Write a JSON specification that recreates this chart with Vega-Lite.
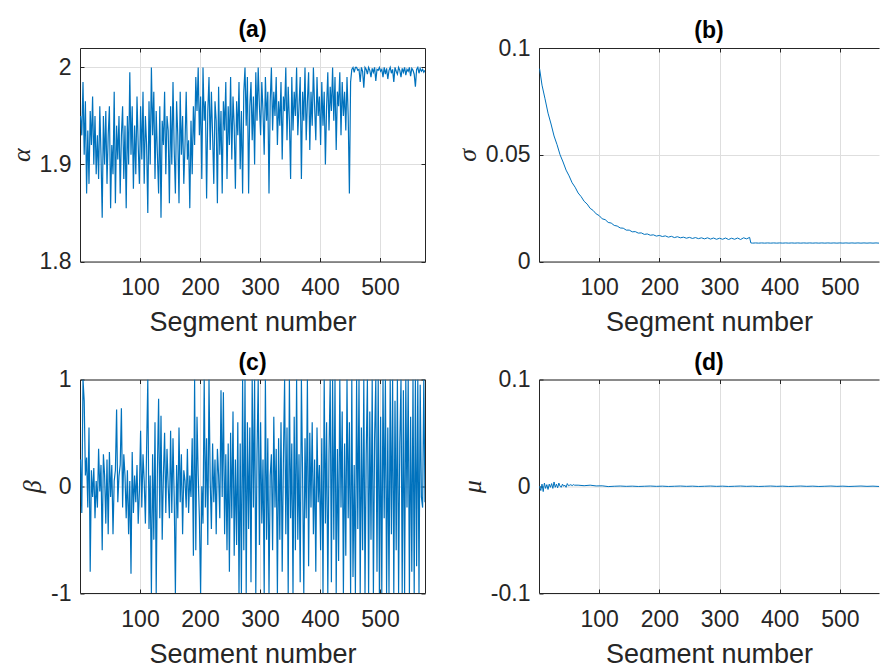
{
"$schema": "https://vega.github.io/schema/vega-lite/v6.json",
"background": "white",
"padding": {"left": 8, "top": 18, "right": 0, "bottom": 0},
"datasets": {
"ab": [
{"s":1,"a":1.95,"b":0.25},{"s":3,"a":1.93,"b":-0.25},{"s":5,"a":1.985,"b":1},{"s":7,"a":1.91,"b":0.8},{"s":9,"a":1.965,"b":0.1},{"s":11,"a":1.87,"b":0.27},{"s":13,"a":1.935,"b":-0.2},{"s":15,"a":1.88,"b":0.55},{"s":17,"a":1.955,"b":-0.8},{"s":19,"a":1.92,"b":0.15},
{"s":21,"a":1.97,"b":-0.1},{"s":23,"a":1.9,"b":0.17},{"s":25,"a":1.95,"b":-0.3},{"s":27,"a":1.89,"b":0.05},{"s":29,"a":1.93,"b":-0.2},{"s":31,"a":1.885,"b":0.35},{"s":33,"a":1.96,"b":-0.05},{"s":35,"a":1.91,"b":0.2},{"s":37,"a":1.845,"b":-0.6},{"s":39,"a":1.95,"b":0.3},
{"s":41,"a":1.9,"b":0.1},{"s":43,"a":1.955,"b":-0.35},{"s":45,"a":1.88,"b":0.25},{"s":47,"a":1.93,"b":-0.45},{"s":49,"a":1.96,"b":0.32},{"s":51,"a":1.855,"b":-0.1},{"s":53,"a":1.92,"b":0.2},{"s":55,"a":1.89,"b":-0.45},{"s":57,"a":1.975,"b":0.05},{"s":59,"a":1.86,"b":0.15},
{"s":61,"a":1.94,"b":0.72},{"s":63,"a":1.905,"b":-0.15},{"s":65,"a":1.95,"b":0.1},{"s":67,"a":1.87,"b":0.2},{"s":69,"a":1.93,"b":0.73},{"s":71,"a":1.96,"b":-0.2},{"s":73,"a":1.885,"b":0.3},{"s":75,"a":1.94,"b":0.1},{"s":77,"a":1.855,"b":-0.3},{"s":79,"a":1.95,"b":0.15},
{"s":81,"a":1.9,"b":-0.45},{"s":83,"a":1.995,"b":0.05},{"s":85,"a":1.91,"b":-0.82},{"s":87,"a":1.96,"b":0.32},{"s":89,"a":1.875,"b":-0.25},{"s":91,"a":1.94,"b":0.1},{"s":93,"a":1.89,"b":-0.15},{"s":95,"a":1.97,"b":0.2},{"s":97,"a":1.92,"b":-0.35},{"s":99,"a":1.88,"b":-0.05},
{"s":101,"a":1.96,"b":0.52},{"s":103,"a":1.905,"b":-0.2},{"s":105,"a":1.975,"b":0.3},{"s":107,"a":1.88,"b":0.05},{"s":109,"a":1.95,"b":-0.35},{"s":111,"a":1.92,"b":0.35},{"s":113,"a":1.85,"b":1},{"s":115,"a":1.965,"b":-0.4},{"s":117,"a":1.9,"b":0.1},{"s":119,"a":2,"b":-1},
{"s":121,"a":1.93,"b":0.3},{"s":123,"a":1.975,"b":-0.5},{"s":125,"a":1.885,"b":0.6},{"s":127,"a":1.955,"b":-1},{"s":129,"a":1.91,"b":0.15},{"s":131,"a":1.87,"b":0.82},{"s":133,"a":1.96,"b":-0.3},{"s":135,"a":1.845,"b":0.66},{"s":137,"a":1.945,"b":-0.5},{"s":139,"a":1.92,"b":0.1},
{"s":141,"a":1.975,"b":0.5},{"s":143,"a":1.89,"b":-0.25},{"s":145,"a":1.95,"b":0.35},{"s":147,"a":1.935,"b":0},{"s":149,"a":1.86,"b":-0.3},{"s":151,"a":1.96,"b":0.52},{"s":153,"a":1.9,"b":-0.25},{"s":155,"a":1.985,"b":0.45},{"s":157,"a":1.915,"b":-0.1},{"s":159,"a":1.87,"b":-1},
{"s":161,"a":1.965,"b":0.2},{"s":163,"a":1.93,"b":-0.3},{"s":165,"a":1.86,"b":0.55},{"s":167,"a":1.975,"b":-0.15},{"s":169,"a":1.91,"b":0.3},{"s":171,"a":1.95,"b":-0.45},{"s":173,"a":1.88,"b":0.15},{"s":175,"a":1.92,"b":0.05},{"s":177,"a":1.975,"b":-0.2},{"s":179,"a":1.905,"b":0.35},
{"s":181,"a":1.925,"b":-0.25},{"s":183,"a":1.855,"b":0.1},{"s":185,"a":1.945,"b":-0.1},{"s":187,"a":1.89,"b":0.45},{"s":189,"a":1.96,"b":-0.65},{"s":191,"a":1.92,"b":1},{"s":193,"a":1.99,"b":-0.6},{"s":195,"a":1.955,"b":0.65},{"s":197,"a":2,"b":0.1},{"s":199,"a":1.93,"b":-0.3},
{"s":201,"a":1.97,"b":-1},{"s":203,"a":1.885,"b":0},{"s":205,"a":2,"b":-0.35},{"s":207,"a":1.945,"b":1},{"s":209,"a":1.965,"b":-0.2},{"s":211,"a":1.865,"b":0.45},{"s":213,"a":1.955,"b":-0.55},{"s":215,"a":1.99,"b":1},{"s":217,"a":1.915,"b":0.05},{"s":219,"a":1.975,"b":-0.4},
{"s":221,"a":1.93,"b":0.4},{"s":223,"a":1.88,"b":-0.15},{"s":225,"a":1.965,"b":0.25},{"s":227,"a":1.945,"b":-0.45},{"s":229,"a":1.86,"b":0.35},{"s":231,"a":1.98,"b":0.1},{"s":233,"a":1.91,"b":-0.3},{"s":235,"a":1.955,"b":0.9},{"s":237,"a":1.87,"b":-0.1},{"s":239,"a":1.965,"b":0.88},
{"s":241,"a":1.935,"b":-0.45},{"s":243,"a":1.985,"b":0.3},{"s":245,"a":1.885,"b":-0.6},{"s":247,"a":1.96,"b":0.4},{"s":249,"a":1.92,"b":-0.8},{"s":251,"a":1.99,"b":0.5},{"s":253,"a":1.905,"b":-0.3},{"s":255,"a":1.97,"b":0.7},{"s":257,"a":1.94,"b":-0.65},{"s":259,"a":1.875,"b":0.25},
{"s":261,"a":1.965,"b":-0.55},{"s":263,"a":1.93,"b":0.6},{"s":265,"a":1.985,"b":-1},{"s":267,"a":1.895,"b":0.4},{"s":269,"a":1.955,"b":-1},{"s":271,"a":1.87,"b":1},{"s":273,"a":1.975,"b":-0.6},{"s":275,"a":2,"b":1},{"s":277,"a":1.94,"b":-1},{"s":279,"a":1.99,"b":0.6},
{"s":281,"a":1.87,"b":-0.4},{"s":283,"a":1.96,"b":0.55},{"s":285,"a":1.985,"b":-0.9},{"s":287,"a":1.925,"b":1},{"s":289,"a":1.97,"b":-0.2},{"s":291,"a":1.9,"b":1},{"s":293,"a":1.995,"b":-1},{"s":295,"a":1.945,"b":0.3},{"s":297,"a":2,"b":1},{"s":299,"a":1.96,"b":-0.55},
{"s":301,"a":1.93,"b":0.6},{"s":303,"a":1.985,"b":-0.35},{"s":305,"a":1.955,"b":0.25},{"s":307,"a":1.91,"b":-1},{"s":309,"a":1.99,"b":1},{"s":311,"a":1.945,"b":-0.5},{"s":313,"a":1.975,"b":0.45},{"s":315,"a":1.87,"b":-1},{"s":317,"a":1.965,"b":0.1},{"s":319,"a":2,"b":0.3},
{"s":321,"a":1.935,"b":-0.6},{"s":323,"a":1.975,"b":0.65},{"s":325,"a":1.95,"b":-0.2},{"s":327,"a":1.99,"b":0.35},{"s":329,"a":1.92,"b":-1},{"s":331,"a":1.965,"b":0.45},{"s":333,"a":1.94,"b":-0.5},{"s":335,"a":1.985,"b":0.6},{"s":337,"a":1.905,"b":-0.8},{"s":339,"a":1.97,"b":0.25},
{"s":341,"a":1.955,"b":1},{"s":343,"a":2,"b":-0.45},{"s":345,"a":1.925,"b":0.55},{"s":347,"a":1.98,"b":-1},{"s":349,"a":1.945,"b":1},{"s":351,"a":1.885,"b":-0.3},{"s":353,"a":1.99,"b":0.4},{"s":355,"a":1.935,"b":-1},{"s":357,"a":1.975,"b":0.65},{"s":359,"a":1.95,"b":-0.6},
{"s":361,"a":2,"b":1},{"s":363,"a":1.93,"b":-0.5},{"s":365,"a":1.96,"b":0.3},{"s":367,"a":1.99,"b":-0.9},{"s":369,"a":1.885,"b":1},{"s":371,"a":1.975,"b":0.1},{"s":373,"a":1.945,"b":-1},{"s":375,"a":2,"b":0.45},{"s":377,"a":1.925,"b":-0.3},{"s":379,"a":1.965,"b":1},
{"s":381,"a":1.995,"b":-0.75},{"s":383,"a":1.915,"b":0.5},{"s":385,"a":1.975,"b":-0.2},{"s":387,"a":1.94,"b":0.6},{"s":389,"a":2,"b":-0.45},{"s":391,"a":1.96,"b":0.25},{"s":393,"a":1.925,"b":-0.8},{"s":395,"a":1.99,"b":0.55},{"s":397,"a":1.95,"b":-0.15},{"s":399,"a":1.97,"b":0.2},
{"s":401,"a":1.92,"b":-0.6},{"s":403,"a":1.985,"b":0.45},{"s":405,"a":1.94,"b":-1},{"s":407,"a":1.975,"b":1},{"s":409,"a":1.9,"b":-0.35},{"s":411,"a":1.96,"b":0.6},{"s":413,"a":1.995,"b":-1},{"s":415,"a":1.935,"b":0.3},{"s":417,"a":1.98,"b":1},{"s":419,"a":1.955,"b":-0.9},
{"s":421,"a":2,"b":1},{"s":423,"a":1.945,"b":-0.5},{"s":425,"a":1.99,"b":1},{"s":427,"a":1.915,"b":-1},{"s":429,"a":1.975,"b":0.35},{"s":431,"a":1.96,"b":-0.7},{"s":433,"a":1.995,"b":1},{"s":435,"a":1.93,"b":-0.2},{"s":437,"a":1.985,"b":0.7},{"s":439,"a":1.95,"b":-1},
{"s":441,"a":1.975,"b":0.4},{"s":443,"a":1.935,"b":-0.65},{"s":445,"a":1.99,"b":1},{"s":447,"a":1.95,"b":-0.3},{"s":449,"a":1.87,"b":0.6},{"s":451,"a":1.985,"b":-1},{"s":453,"a":1.998,"b":1},{"s":455,"a":2,"b":-0.85},{"s":457,"a":1.995,"b":0.2},{"s":459,"a":2,"b":-1},
{"s":461,"a":2,"b":1},{"s":463,"a":1.997,"b":-0.4},{"s":465,"a":1.998,"b":1},{"s":467,"a":1.985,"b":-1},{"s":469,"a":2,"b":0.55},{"s":471,"a":1.996,"b":-0.6},{"s":473,"a":1.979,"b":1},{"s":475,"a":2,"b":-1},{"s":477,"a":1.998,"b":0.3},{"s":479,"a":1.993,"b":1},
{"s":481,"a":2,"b":-1},{"s":483,"a":1.997,"b":0.7},{"s":485,"a":1.99,"b":-0.5},{"s":487,"a":1.999,"b":1},{"s":489,"a":1.995,"b":-1},{"s":491,"a":2,"b":0.45},{"s":493,"a":1.986,"b":1},{"s":495,"a":1.998,"b":-0.8},{"s":497,"a":1.997,"b":1},{"s":499,"a":2,"b":-1},
{"s":501,"a":1.996,"b":0.65},{"s":503,"a":1.998,"b":-1},{"s":505,"a":1.99,"b":1},{"s":507,"a":2,"b":-0.3},{"s":509,"a":1.993,"b":1},{"s":511,"a":1.999,"b":-1},{"s":513,"a":1.988,"b":0.55},{"s":515,"a":1.997,"b":-1},{"s":517,"a":2,"b":1},{"s":519,"a":1.994,"b":-0.45},
{"s":521,"a":1.998,"b":1},{"s":523,"a":1.985,"b":-1},{"s":525,"a":2,"b":0.8},{"s":527,"a":1.996,"b":-0.6},{"s":529,"a":1.993,"b":1},{"s":531,"a":2,"b":-1},{"s":533,"a":1.997,"b":0.4},{"s":535,"a":1.99,"b":1},{"s":537,"a":1.999,"b":-1},{"s":539,"a":1.995,"b":0.9},
{"s":541,"a":2,"b":-1},{"s":543,"a":1.992,"b":1},{"s":545,"a":1.998,"b":-0.2},{"s":547,"a":1.996,"b":1},{"s":549,"a":2,"b":-1},{"s":551,"a":1.991,"b":0.65},{"s":553,"a":1.999,"b":-0.8},{"s":555,"a":1.997,"b":1},{"s":557,"a":1.993,"b":-1},{"s":559,"a":1.98,"b":1},
{"s":561,"a":1.998,"b":-0.75},{"s":563,"a":2,"b":1},{"s":565,"a":1.994,"b":-1},{"s":567,"a":1.999,"b":0.95},{"s":569,"a":1.996,"b":-0.1},{"s":571,"a":1.998,"b":-0.2},{"s":573,"a":1.995,"b":1},{"s":575,"a":1.997,"b":-0.15}
],
"sig": [
{"s":1,"g":0.0903},{"s":5,"g":0.0826},{"s":10,"g":0.0762},{"s":15,"g":0.0695},{"s":20,"g":0.0644},{"s":25,"g":0.0588},{"s":30,"g":0.0547},{"s":35,"g":0.05},{"s":40,"g":0.0466},{"s":45,"g":0.0428},
{"s":50,"g":0.0401},{"s":55,"g":0.0369},{"s":60,"g":0.0348},{"s":65,"g":0.0321},{"s":70,"g":0.0304},{"s":75,"g":0.0282},{"s":80,"g":0.0269},{"s":85,"g":0.0249},{"s":90,"g":0.0239},{"s":95,"g":0.0223},
{"s":100,"g":0.0215},{"s":105,"g":0.02},{"s":110,"g":0.0196},{"s":115,"g":0.0183},{"s":120,"g":0.018},{"s":125,"g":0.0169},{"s":130,"g":0.0166},{"s":135,"g":0.0157},{"s":140,"g":0.0156},{"s":145,"g":0.0147},
{"s":150,"g":0.0147},{"s":155,"g":0.0139},{"s":160,"g":0.014},{"s":165,"g":0.0133},{"s":170,"g":0.0134},{"s":175,"g":0.0127},{"s":180,"g":0.0129},{"s":185,"g":0.0123},{"s":190,"g":0.0125},{"s":195,"g":0.0119},
{"s":200,"g":0.0122},{"s":205,"g":0.0117},{"s":210,"g":0.012},{"s":215,"g":0.0114},{"s":220,"g":0.0118},{"s":225,"g":0.0112},{"s":230,"g":0.0116},{"s":235,"g":0.0111},{"s":240,"g":0.0114},{"s":245,"g":0.0109},
{"s":250,"g":0.0113},{"s":255,"g":0.0108},{"s":260,"g":0.0112},{"s":265,"g":0.0107},{"s":270,"g":0.0111},{"s":275,"g":0.0106},{"s":280,"g":0.0111},{"s":285,"g":0.0105},{"s":290,"g":0.011},{"s":295,"g":0.0104},
{"s":300,"g":0.0109},{"s":305,"g":0.0104},{"s":310,"g":0.011},{"s":315,"g":0.0103},{"s":320,"g":0.0109},{"s":325,"g":0.0104},{"s":330,"g":0.011},{"s":335,"g":0.0103},{"s":340,"g":0.0111},{"s":345,"g":0.0106},
{"s":350,"g":0.0113},{"s":352,"g":0.0087},{"s":355,"g":0.0086},{"s":360,"g":0.0087},{"s":365,"g":0.0086},{"s":370,"g":0.0087},{"s":375,"g":0.0086},{"s":380,"g":0.0087},{"s":385,"g":0.0086},{"s":390,"g":0.0087},
{"s":395,"g":0.0086},{"s":400,"g":0.0087},{"s":405,"g":0.0086},{"s":410,"g":0.0087},{"s":415,"g":0.0086},{"s":420,"g":0.0087},{"s":425,"g":0.0086},{"s":430,"g":0.0087},{"s":435,"g":0.0086},{"s":440,"g":0.0087},
{"s":445,"g":0.0086},{"s":450,"g":0.0087},{"s":455,"g":0.0086},{"s":460,"g":0.0087},{"s":465,"g":0.0086},{"s":470,"g":0.0087},{"s":475,"g":0.0086},{"s":480,"g":0.0087},{"s":485,"g":0.0086},{"s":490,"g":0.0087},
{"s":495,"g":0.0086},{"s":500,"g":0.0087},{"s":505,"g":0.0086},{"s":510,"g":0.0087},{"s":515,"g":0.0086},{"s":520,"g":0.0087},{"s":525,"g":0.0086},{"s":530,"g":0.0087},{"s":535,"g":0.0086},{"s":540,"g":0.0087},
{"s":545,"g":0.0086},{"s":550,"g":0.0087},{"s":555,"g":0.0086},{"s":560,"g":0.0087},{"s":565,"g":0.0086},{"s":570,"g":0.0087},{"s":575,"g":0.0086}
],
"mu": [
{"s":1,"m":0},{"s":3,"m":-0.004},{"s":5,"m":0.002},{"s":7,"m":-0.005},{"s":9,"m":0.003},{"s":11,"m":-0.002},{"s":13,"m":0.0015},{"s":15,"m":-0.003},{"s":17,"m":0.002},{"s":19,"m":-0.001},
{"s":21,"m":0.0025},{"s":23,"m":-0.002},{"s":25,"m":0.004},{"s":27,"m":-0.001},{"s":29,"m":0.002},{"s":31,"m":-0.0015},{"s":33,"m":0.003},{"s":35,"m":0},{"s":37,"m":-0.001},{"s":39,"m":0.002},
{"s":41,"m":0},{"s":43,"m":0.001},{"s":45,"m":-0.001},{"s":47,"m":0.0025},{"s":49,"m":0.0005},{"s":51,"m":0.001},{"s":53,"m":0.0015},{"s":55,"m":0.0005},{"s":57,"m":0.0015},{"s":59,"m":0.001},
{"s":65,"m":0.001},{"s":75,"m":0.0005},{"s":85,"m":0.001},{"s":95,"m":0.0003},{"s":105,"m":0.0004},{"s":115,"m":-0.0003},{"s":125,"m":0},
{"s":135,"m":0.0002},{"s":145,"m":-0.0001},{"s":155,"m":0.0001},{"s":165,"m":-0.0002},{"s":175,"m":0},{"s":185,"m":0.0002},{"s":195,"m":-0.0001},{"s":205,"m":0.0001},{"s":215,"m":-0.0002},{"s":225,"m":0},
{"s":235,"m":0.0002},{"s":245,"m":-0.0001},{"s":255,"m":0.0001},{"s":265,"m":-0.0002},{"s":275,"m":0},{"s":285,"m":0.0002},{"s":295,"m":-0.0001},{"s":305,"m":0.0001},{"s":315,"m":-0.0002},{"s":325,"m":0},
{"s":335,"m":0.0002},{"s":345,"m":-0.0001},{"s":355,"m":0.0001},{"s":365,"m":-0.0002},{"s":375,"m":0},{"s":385,"m":0.0002},{"s":395,"m":-0.0001},{"s":405,"m":0.0001},{"s":415,"m":-0.0002},{"s":425,"m":0},
{"s":435,"m":0.0002},{"s":445,"m":-0.0001},{"s":455,"m":0.0001},{"s":465,"m":-0.0002},{"s":475,"m":0},{"s":485,"m":0.0002},{"s":495,"m":-0.0001},{"s":505,"m":0.0001},{"s":515,"m":-0.0002},{"s":525,"m":0},
{"s":535,"m":0.0002},{"s":545,"m":-0.0001},{"s":555,"m":0.0001},{"s":565,"m":-0.0002},{"s":575,"m":0}
]
},
"config": {
"view": {"stroke": null},
"font": "Liberation Sans",
"axis": {"domainColor": "#262626", "domainWidth": 1, "tickColor": "#262626", "tickWidth": 1, "tickSize": -4, "labelColor": "#262626", "labelFont": "Liberation Sans", "labelFontSize": 23, "titleColor": "#262626", "titleFont": "Liberation Sans", "titleFontSize": 27, "titleFontWeight": "normal", "gridColor": "#dedede", "gridWidth": 1, "labelOverlap": false},
"title": {"font": "Liberation Sans", "fontSize": 23, "fontWeight": "bold", "color": "#000000", "offset": 6, "anchor": "middle", "frame": "group"},
"line": {"color": "#0072BD", "strokeWidth": 1}
},
"columns": 2,
"spacing": {"row": 117.5, "column": 114},
"bounds": "flush",
"concat": [
{"width": 345, "height": 213.5, "title": {"text": "(a)", "offset": 6}, "data": {"name": "ab"},
 "layer": [
  {"mark": {"type": "line", "clip": true, "strokeWidth": 1.2},
   "encoding": {
    "x": {"field": "s", "type": "quantitative", "scale": {"domain": [0, 575], "nice": false, "zero": false},
          "axis": {"orient": "bottom", "values": [100,200,300,400,500], "grid": true, "labelExpr": "'' + datum.value", "title": "Segment number", "labelPadding": 19, "titlePadding": 10}},
    "y": {"field": "a", "type": "quantitative", "scale": {"domain": [1.8, 2.02], "nice": false, "zero": false},
          "axis": {"orient": "left", "values": [1.8,1.9,2], "grid": true, "labelExpr": "'' + datum.value", "title": "α", "titleFont": "Liberation Serif", "titleFontStyle": "italic", "titleFontSize": 26, "labelPadding": 13, "titlePadding": 5}}}},
  {"mark": {"type": "line", "strokeOpacity": 0},
   "encoding": {
    "x": {"field": "s", "type": "quantitative", "axis": {"orient": "top", "values": [100,200,300,400,500], "labels": false, "grid": false, "title": null}},
    "y": {"field": "a", "type": "quantitative", "axis": {"orient": "right", "values": [1.8,1.9,2], "labels": false, "grid": false, "title": null}}}}
 ]},
{"width": 340, "height": 213.5, "title": {"text": "(b)", "offset": -6}, "data": {"name": "sig"},
 "layer": [
  {"mark": {"type": "line", "clip": true},
   "encoding": {
    "x": {"field": "s", "type": "quantitative", "scale": {"domain": [0, 565], "nice": false, "zero": false},
          "axis": {"orient": "bottom", "values": [100,200,300,400,500], "grid": true, "labelExpr": "'' + datum.value", "title": "Segment number", "labelPadding": 19, "titlePadding": 10}},
    "y": {"field": "g", "type": "quantitative", "scale": {"domain": [0, 0.1], "nice": false, "zero": false},
          "axis": {"orient": "left", "values": [0,0.05,0.1], "grid": true, "labelExpr": "'' + datum.value", "title": "σ", "titleFont": "Liberation Serif", "titleFontStyle": "italic", "titleFontSize": 26, "labelPadding": 13, "titlePadding": 5}}}},
  {"mark": {"type": "line", "strokeOpacity": 0},
   "encoding": {
    "x": {"field": "s", "type": "quantitative", "axis": {"orient": "top", "values": [100,200,300,400,500], "labels": false, "grid": false, "title": null}},
    "y": {"field": "g", "type": "quantitative", "axis": {"orient": "right", "labels": false, "ticks": false, "domain": false, "grid": false, "title": null}}}}
 ]},
{"width": 345, "height": 213.5, "title": {"text": "(c)", "offset": -6}, "data": {"name": "ab"},
 "layer": [
  {"mark": {"type": "line", "clip": true, "strokeWidth": 1.2},
   "encoding": {
    "x": {"field": "s", "type": "quantitative", "scale": {"domain": [0, 575], "nice": false, "zero": false},
          "axis": {"orient": "bottom", "values": [100,200,300,400,500], "grid": true, "labelExpr": "'' + datum.value", "title": "Segment number", "labelPadding": 19, "titlePadding": 10}},
    "y": {"field": "b", "type": "quantitative", "scale": {"domain": [-1, 1], "nice": false, "zero": false},
          "axis": {"orient": "left", "values": [-1,0,1], "grid": true, "labelExpr": "'' + datum.value", "title": "β", "titleFont": "Liberation Serif", "titleFontStyle": "italic", "titleFontSize": 26, "labelPadding": 13, "titlePadding": 5}}}},
  {"mark": {"type": "line", "strokeOpacity": 0},
   "encoding": {
    "x": {"field": "s", "type": "quantitative", "axis": {"orient": "top", "values": [100,200,300,400,500], "labels": false, "grid": false, "title": null}},
    "y": {"field": "b", "type": "quantitative", "axis": {"orient": "right", "values": [-1,0,1], "labels": false, "grid": false, "title": null}}}}
 ]},
{"width": 340, "height": 213.5, "title": {"text": "(d)", "offset": -6}, "data": {"name": "mu"},
 "layer": [
  {"mark": {"type": "line", "clip": true},
   "encoding": {
    "x": {"field": "s", "type": "quantitative", "scale": {"domain": [0, 565], "nice": false, "zero": false},
          "axis": {"orient": "bottom", "values": [100,200,300,400,500], "grid": true, "labelExpr": "'' + datum.value", "title": "Segment number", "labelPadding": 19, "titlePadding": 10}},
    "y": {"field": "m", "type": "quantitative", "scale": {"domain": [-0.1, 0.1], "nice": false, "zero": false},
          "axis": {"orient": "left", "values": [-0.1,0,0.1], "grid": true, "labelExpr": "'' + datum.value", "title": "μ", "titleFont": "Liberation Serif", "titleFontStyle": "italic", "titleFontSize": 26, "labelPadding": 13, "titlePadding": 5}}}},
  {"mark": {"type": "line", "strokeOpacity": 0},
   "encoding": {
    "x": {"field": "s", "type": "quantitative", "axis": {"orient": "top", "values": [100,200,300,400,500], "labels": false, "grid": false, "title": null}},
    "y": {"field": "m", "type": "quantitative", "axis": {"orient": "right", "labels": false, "ticks": false, "domain": false, "grid": false, "title": null}}}}
 ]}
]
}
